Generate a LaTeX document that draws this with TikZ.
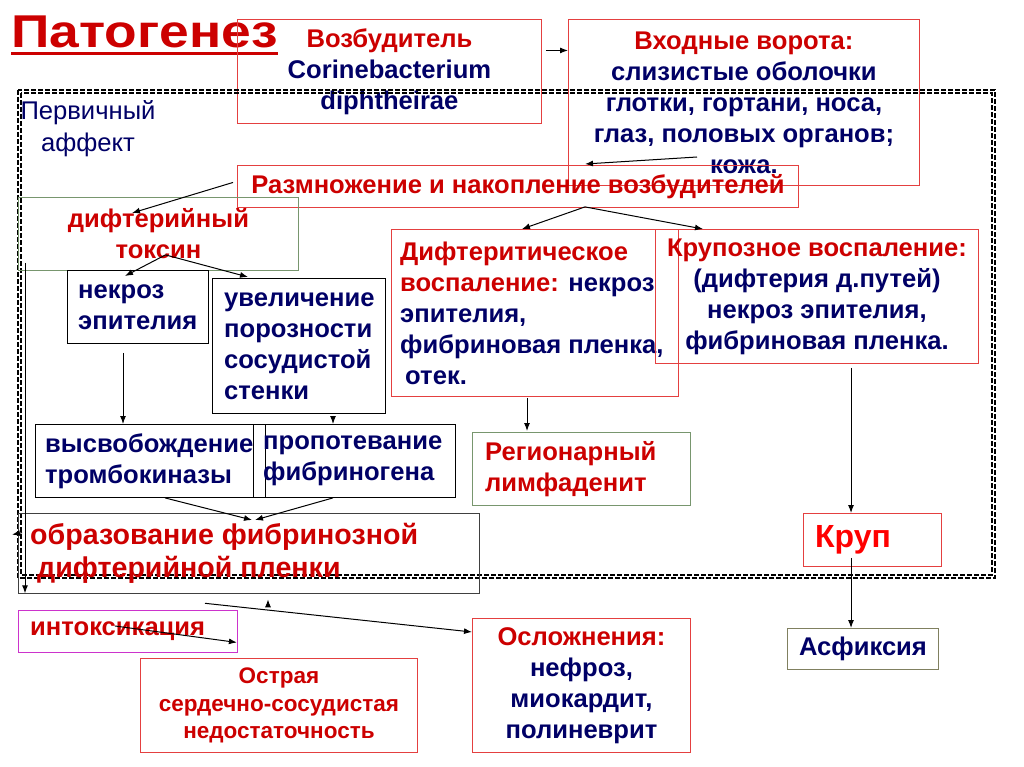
\documentclass[tikz,border=0pt]{standalone}
\usepackage{fontspec}
\setmainfont{Liberation Sans}
\usepackage{tikz}
\usetikzlibrary{arrows.meta,calc,positioning}
\definecolor{rot}{RGB}{204,0,0}
\definecolor{hellrot}{RGB}{255,0,0}
\definecolor{navy}{RGB}{0,0,102}
\definecolor{rahmenrot}{RGB}{228,64,64}
\definecolor{rahmengruen}{RGB}{120,150,110}
\definecolor{rahmenlila}{RGB}{204,51,204}
\definecolor{rahmenoliv}{RGB}{128,128,96}
\newcommand{\grossschrift}{\fontsize{25.6}{31}\selectfont\bfseries}
\tikzset{
  kasten/.style={draw=#1, rectangle, anchor=north west, inner sep=0pt, line width=0.9pt},
  beschriftung/.style={text=navy, font=\grossschrift, inner sep=0pt},
  pfeil/.style={-{Latex[length=8pt,width=6pt]}, line width=1pt},
}
\begin{document}
\begin{tikzpicture}[x=1pt,y=-1pt]
\useasboundingbox (0,0) rectangle (1024,767);
%Ueberschrift
\node[anchor=base west, inner sep=0pt, text=rot, font=\fontsize{46}{55}\selectfont\bfseries] (titel) at (11,48) {\scalebox{1.16}[1]{Патогенез}};
\draw[rot, line width=3pt] ($(titel.base west)+(0,6)$) -- ($(titel.base east)+(0,6)$);
%Erreger und Eintrittspforte
\node[kasten=rahmenrot, minimum width=304pt, minimum height=104pt, align=center, beschriftung] (erreger) at (237,19) {{\color{rot}Возбудитель}\\Corinebacterium\\diphtheirae};
\node[kasten=rahmenrot, minimum width=351pt, minimum height=166pt, align=center, beschriftung] (pforte) at (568,19) {{\color{rot}Входные ворота:}\\слизистые оболочки\\глотки, гортани, носа,\\глаз, половых органов;\\кожа.};
%Primaeraffekt (gestrichelter Rahmen, doppelt)
\foreach \d in {0,3}{
\draw[dash pattern=on 5pt off 2pt, line width=1.1pt] (18+\d,90+\d) rectangle (995-\d,578-\d);
}
\node[text=navy, font=\fontsize{25.6}{32}\selectfont, align=center, inner sep=0pt] (affekt) at (88,129) {Первичный\\аффект};
\node[kasten=rahmenrot, minimum width=561pt, minimum height=42pt, beschriftung, text=rot] (vermehrung) at (237,165) {Размножение и накопление возбудителей};
%linker Zweig: Toxin
\node[kasten=rahmengruen, minimum width=280pt, minimum height=73pt, align=center, beschriftung, text=rot] (toxin) at (18,197) {дифтерийный\\токсин};
\node[kasten=black, minimum width=141pt, minimum height=73pt] (nekrose) at (67,270) {};
\node[beschriftung, anchor=west, align=left] (nekrose-t) at ($(nekrose.west)+(11,0)$) {некроз\\эпителия};
\node[kasten=black, minimum width=173pt, minimum height=135pt] (poren) at (212,278) {};
\node[beschriftung, anchor=west, align=left] (poren-t) at ($(poren.west)+(12,0)$) {увеличение\\порозности\\сосудистой\\стенки};
\node[kasten=black, minimum width=230pt, minimum height=73pt] (thrombo) at (35,424) {};
\node[beschriftung, anchor=west, align=left] (thrombo-t) at ($(thrombo.west)+(10,0)$) {высвобождение\\тромбокиназы};
\node[kasten=black, minimum width=202pt, minimum height=73pt] (fibrinogen) at (253,424) {};
\node[beschriftung, anchor=west, align=left] (fibrinogen-t) at ($(fibrinogen.west)+(10,0)$) {пропотевание\\фибриногена};
\node[kasten={black!75}, line width=1.3pt, minimum width=461pt, minimum height=80pt] (bildung) at (18,513) {};
\node[beschriftung, text=rot, font=\fontsize{28.6}{33}\selectfont\bfseries, anchor=west, align=left] (bildung-t) at ($(bildung.west)+(12,0)$) {образование фибринозной\\\hspace*{7pt}дифтерийной пленки};
%rechter Zweig: Entzuendung
\node[kasten=rahmenrot, minimum width=287pt, minimum height=167pt] (diphtherit) at (391,229) {};
\node[beschriftung, anchor=west, align=left] (diphtherit-t) at ($(diphtherit.west)+(9,0)$) {{\color{rot}Дифтеритическое}\\{\color{rot}воспаление:} некроз\\эпителия,\\фибриновая пленка,\\\hspace*{5pt}отек.};
\node[kasten=rahmenrot, minimum width=323pt, minimum height=134pt, align=center, beschriftung] (kruppoes) at (655,229) {{\color{rot}Крупозное воспаление:}\\(дифтерия д.путей)\\некроз эпителия,\\фибриновая пленка.};
\node[kasten=rahmengruen, minimum width=218pt, minimum height=73pt] (lymph) at (472,432) {};
\node[beschriftung, text=rot, anchor=west, align=left] (lymph-t) at ($(lymph.west)+(13,0)$) {Регионарный\\лимфаденит};
\node[kasten=rahmenrot, minimum width=138pt, minimum height=53pt] (krupp) at (803,513) {};
\node[beschriftung, text=hellrot, font=\fontsize{32}{38}\selectfont\bfseries, anchor=west] (krupp-t) at ($(krupp.west)+(12,0)$) {Круп};
\node[kasten=rahmenoliv, minimum width=151pt, minimum height=41pt, beschriftung] (asphyxie) at (787,628) {Асфиксия};
%Folgen
\node[kasten=rahmenlila, minimum width=219pt, minimum height=42pt] (intox) at (18,610) {};
\node[beschriftung, text=rot, anchor=west] (intox-t) at ($(intox.west)+(12,0)$) {интоксикация};
\node[kasten=rahmenrot, minimum width=277pt, minimum height=94pt, align=center, beschriftung, text=rot, font=\fontsize{22.5}{27.5}\selectfont\bfseries] (herz) at (140,658) {Острая\\сердечно-сосудистая\\недостаточность};
\node[kasten=rahmenrot, minimum width=218pt, minimum height=134pt, align=center, beschriftung] (kompl) at (472,618) {{\color{rot}Осложнения:}\\нефроз,\\миокардит,\\полиневрит};
%Pfeile
\draw[pfeil] ($(erreger.east)+(4,-21)$) -- ($(pforte.west)+(0,-52)$);
\draw[pfeil] ($(pforte.north west)+(129,138)$) -- ($(vermehrung.north west)+(348,-1)$);
\draw[pfeil] ($(vermehrung.west)+(-4,-4)$) -- ($(toxin.north west)+(114,16)$);
\draw[pfeil] ($(toxin.south)+(7,-16)$) -- ($(nekrose.north west)+(58,6)$);
\draw[pfeil] ($(toxin.south)+(7,-16)$) -- ($(poren.north west)+(36,-1)$);
\draw[pfeil] ($(nekrose.south west)+(56,9)$) -- ($(thrombo.north west)+(88,0)$);
\draw[pfeil] ($(poren.south west)+(121,2)$) -- ($(fibrinogen.north west)+(80,0)$);
\draw[pfeil] ($(thrombo.south west)+(130,0)$) -- ($(bildung.north west)+(234,7)$);
\draw[pfeil] ($(fibrinogen.south west)+(80,0)$) -- ($(bildung.north west)+(237,7)$);
\draw[pfeil] ($(toxin.south west)+(7,-8)$) -- ($(bildung.south west)+(7,-1)$);
\draw[pfeil] ($(bildung.west)+(4,-21)$) -- ($(bildung.west)+(-6,-19)$);
\draw[pfeil] ($(bildung.south west)+(187,9)$) -- ($(kompl.north west)+(0,14)$);
\draw[pfeil] ($(bildung.south west)+(250,12)$) -- ($(bildung.south west)+(250,5)$);
\draw[pfeil] ($(intox.north west)+(97,16)$) -- ($(intox.east)+(-1,11)$);
\draw[pfeil] ($(vermehrung.south west)+(348,-1)$) -- ($(diphtherit.north west)+(131,0)$);
\draw[pfeil] ($(vermehrung.south west)+(348,-1)$) -- ($(kruppoes.north west)+(48,0)$);
\draw[pfeil] ($(diphtherit.south west)+(136,1)$) -- ($(lymph.north west)+(55,-1)$);
\draw[pfeil] ($(kruppoes.south west)+(196,4)$) -- ($(krupp.north west)+(48,0)$);
\draw[pfeil] ($(krupp.south west)+(48,-9)$) -- ($(asphyxie.north west)+(64,0)$);
\end{tikzpicture}
\end{document}
